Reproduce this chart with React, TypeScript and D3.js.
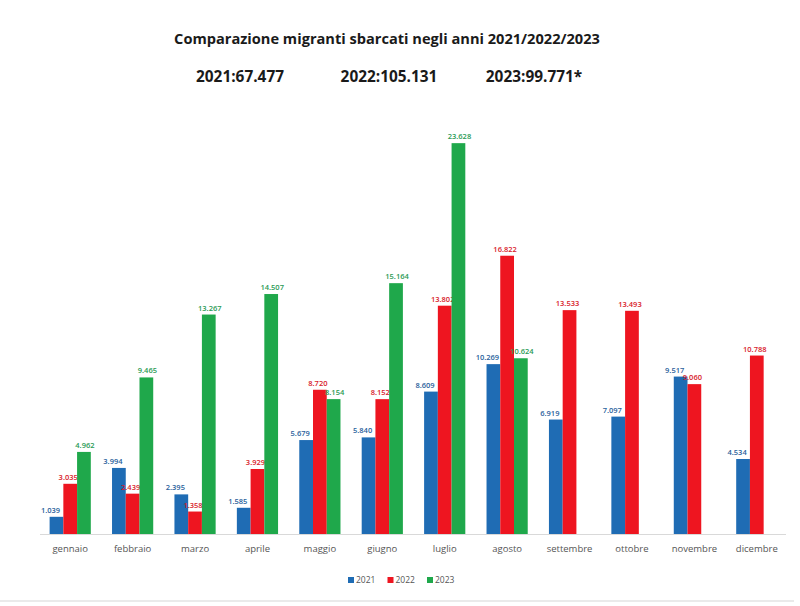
import React from "react";
import * as d3 from "d3";

const months = ["gennaio","febbraio","marzo","aprile","maggio","giugno","luglio","agosto","settembre","ottobre","novembre","dicembre"];
const series = ["2021","2022","2023"];
const v2021 = [1039,3994,2395,1585,5679,5840,8609,10269,6919,7097,9517,4534];
const v2022 = [3035,2439,1358,3929,8720,8152,13802,16822,13533,13493,9060,10788];
const v2023: (number|null)[] = [4962,9465,13267,14507,8154,15164,23628,10624,null,null,null,null];
const totals = ["2021:67.477","2022:105.131","2023:99.771*"];
const title = "Comparazione migranti sbarcati negli anni 2021/2022/2023";

const colors = ["#1f6cb4","#ee1520","#1fa84b"];
const labelColors = ["#2a5f9c","#d81a2a","#2a9a55"];
const labelShift = [-6, -2, 1];

const W = 800, H = 606;

export default function App() {
  const values = [v2021, v2022, v2023];
  const x0 = d3.scaleBand<string>().domain(months).range([39, 788]).paddingInner(0.34).paddingOuter(0.17);
  const x1 = d3.scaleBand<string>().domain(series).range([0, x0.bandwidth()]).padding(0);
  const y = d3.scaleLinear().domain([0, 24000]).range([534, 137]);
  const fmt = d3.formatLocale({decimal: ",", thousands: ".", grouping: [3], currency: ["", "€"]}).format(",d");
  const font = "'Open Sans', 'Liberation Sans', sans-serif";

  return (
    <svg width={W} height={H} style={{position:"absolute", left:0, top:0, background:"#fff"}} fontFamily={font}>
      <rect x={0} y={0} width={W} height={H} fill="#fff" />
      <text x={387} y={44} textAnchor="middle" fontSize={14.6} fontWeight={700} fill="#1a1a1a">{title}</text>
      {totals.map((t, i) => (
        <text key={t} x={[240, 389, 534][i]} y={82} textAnchor="middle" fontSize={15.4} fontWeight={700} fill="#1a1a1a">{t}</text>
      ))}
      <line x1={40} x2={786} y1={534.5} y2={534.5} stroke="#d9d9d9" strokeWidth={1} />
      {months.map((m, mi) => (
        <g key={m} transform={`translate(${x0(m)},0)`}>
          {series.map((s, si) => {
            const v = values[si][mi];
            if (v == null) return null;
            const bx = x1(s)!;
            return (
              <g key={s}>
                <rect x={bx} y={y(v)} width={x1.bandwidth()} height={y(0) - y(v)} fill={colors[si]} />
                <text x={bx + x1.bandwidth() / 2 + labelShift[si]} y={y(v) - 4} textAnchor="middle" fontSize={7.5} fontWeight={600} fill={labelColors[si]}>{fmt(v)}</text>
              </g>
            );
          })}
          <text x={x0.bandwidth() / 2} y={552} textAnchor="middle" fontSize={9.5} fill="#555">{m}</text>
        </g>
      ))}
      {series.map((s, i) => (
        <g key={s} transform={`translate(${348 + i * 39.5},0)`}>
          <rect x={0} y={577} width={6} height={6} fill={colors[i]} />
          <text x={8} y={583} fontSize={8.5} fill="#555">{s}</text>
        </g>
      ))}
      <line x1={0} x2={794} y1={601} y2={601} stroke="#e3e3e3" strokeWidth={1.5} />
    </svg>
  );
}
